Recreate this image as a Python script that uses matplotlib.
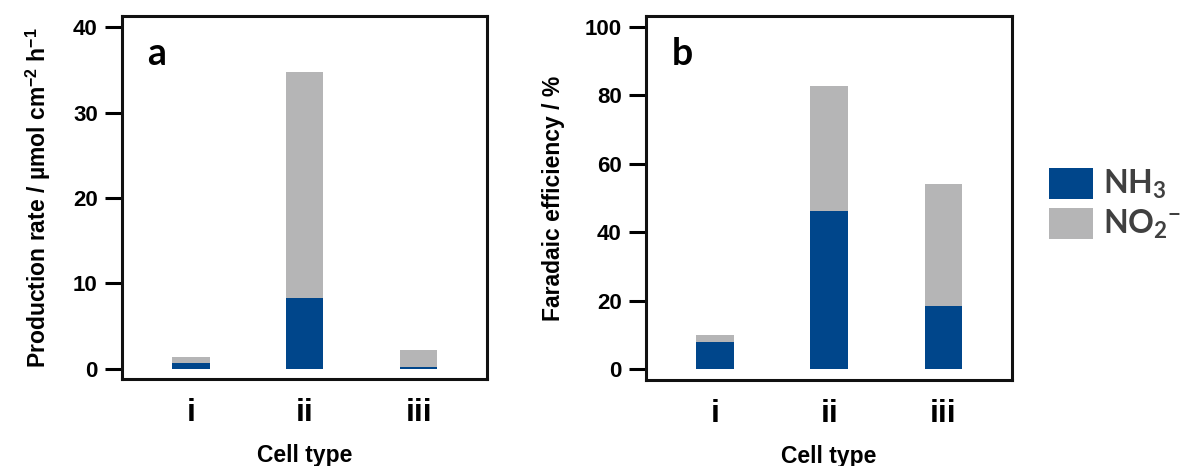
import matplotlib
matplotlib.use("Agg")
import matplotlib.pyplot as plt
from matplotlib.patches import Patch

plt.rcParams['font.family'] = ['Liberation Sans', 'DejaVu Sans']
plt.rcParams['font.weight'] = 'bold'
plt.rcParams['mathtext.fontset'] = 'custom'
plt.rcParams['mathtext.rm'] = 'Lato:bold'
plt.rcParams['mathtext.bf'] = 'Lato:bold'
plt.rcParams['mathtext.it'] = 'Lato:bold'
plt.rcParams['mathtext.sf'] = 'Liberation Sans:bold'

# Data
cell_types = ['i', 'ii', 'iii']
rate_nh3 = [0.67, 8.27, 0.20]
rate_no2 = [0.73, 26.43, 2.00]
fe_nh3 = [8.0, 46.1, 18.4]
fe_no2 = [2.0, 36.5, 35.7]
series_names = [r'NH$_\mathbf{3}$', r'NO$_\mathbf{2}$$^\mathbf{-}$']

BLUE = '#00468B'
GRAY = '#B5B5B6'

fig = plt.figure(figsize=(11.81, 4.66), dpi=100)
ax_a = fig.add_axes([0.1033, 0.1867, 0.309, 0.779])
ax_b = fig.add_axes([0.547, 0.1845, 0.3099, 0.781])

x = [1, 2, 3]
width = 0.33


def style_axis(ax, ylim, yticks, ylabel, letter):
    ax.set_xlim(0.396, 3.6)
    ax.set_ylim(*ylim)
    ax.set_yticks(yticks)
    ax.set_xticks(x)
    ax.set_xticklabels(cell_types, fontsize=23, fontweight='bold')
    ax.tick_params(axis='x', length=0, pad=14)
    ax.tick_params(axis='y', length=12, width=2.2, pad=5.5, labelsize=16,
                   direction='out')
    for sp in ax.spines.values():
        sp.set_linewidth(2.2)
        sp.set_color('#111111')
    ax.set_xlabel('Cell type', fontsize=16.5, fontweight='bold', labelpad=11)
    ax.set_ylabel(ylabel, fontsize=16.5, fontweight='bold', labelpad=14)
    ax.text(0.07, 0.865, letter, transform=ax.transAxes, fontsize=27,
            fontweight='bold', family='Lato', ha='left', va='baseline')


ax_a.bar(x, rate_nh3, width, color=BLUE)
ax_a.bar(x, rate_no2, width, bottom=rate_nh3, color=GRAY)
style_axis(ax_a, (-1.17, 41.29), [0, 10, 20, 30, 40],
           r'Production rate / µmol cm$^{\mathsf{-2}}$ h$^{\mathsf{-1}}$', 'a')

ax_b.bar(x, fe_nh3, width, color=BLUE)
ax_b.bar(x, fe_no2, width, bottom=fe_nh3, color=GRAY)
style_axis(ax_b, (-3.12, 103.1), [0, 20, 40, 60, 80, 100],
           'Faradaic efficiency / %', 'b')

handles = [Patch(facecolor=BLUE), Patch(facecolor=GRAY)]
leg = fig.legend(handles, series_names, loc='upper left',
                 bbox_to_anchor=(1049 / 1181, 1 - 168 / 466),
                 frameon=False, borderpad=0, borderaxespad=0,
                 handlelength=1.38, handleheight=1.12, handletextpad=0.3,
                 labelspacing=0.2, prop={'family': 'Lato', 'weight': 'bold',
                                         'size': 23})
for t in leg.get_texts():
    t.set_color('#404040')

fig.savefig('out.png', dpi=100)
